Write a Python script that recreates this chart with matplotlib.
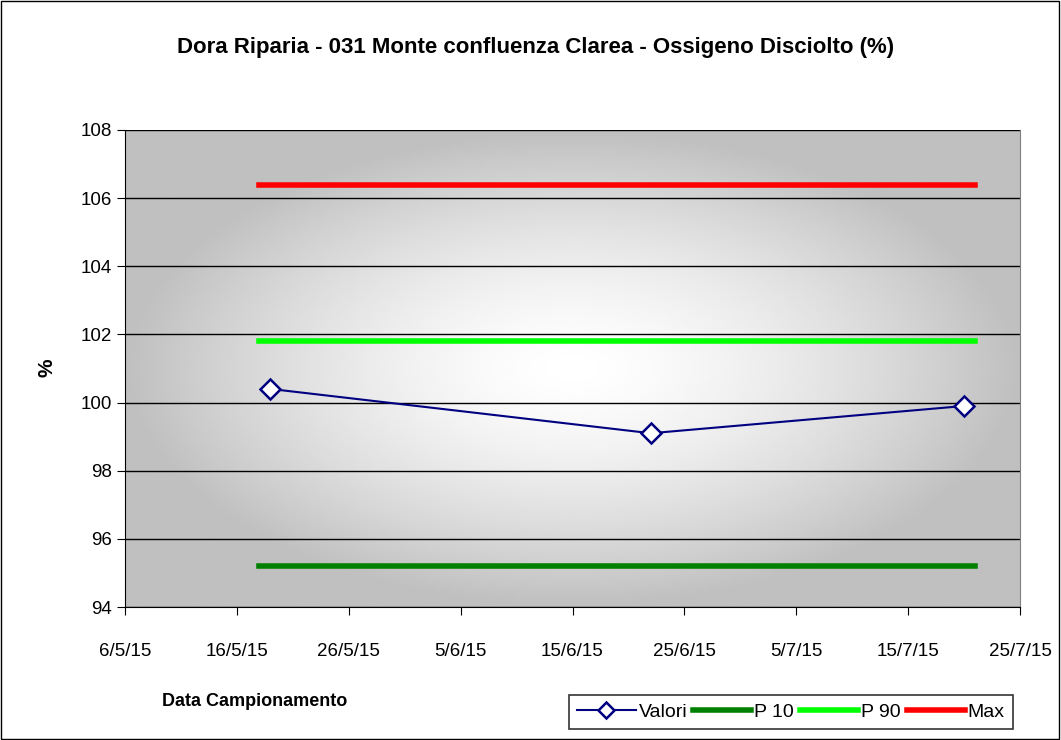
import numpy as np
import matplotlib.pyplot as plt
from datetime import datetime

plt.rcParams['font.family'] = ['Liberation Sans', 'DejaVu Sans']

# Data
date_valori = [datetime(2015, 5, 19), datetime(2015, 6, 22), datetime(2015, 7, 20)]
valori = [100.4, 99.1, 99.9]
date_limiti = [datetime(2015, 5, 18), datetime(2015, 7, 21)]
p10 = [95.2, 95.2]
p90 = [101.8, 101.8]
vmax = [106.4, 106.4]
xticks = [datetime(2015, 5, 6), datetime(2015, 5, 16), datetime(2015, 5, 26),
          datetime(2015, 6, 5), datetime(2015, 6, 15), datetime(2015, 6, 25),
          datetime(2015, 7, 5), datetime(2015, 7, 15), datetime(2015, 7, 25)]
xticklabels = ['6/5/15', '16/5/15', '26/5/15', '5/6/15', '15/6/15',
               '25/6/15', '5/7/15', '15/7/15', '25/7/15']

fig = plt.figure(figsize=(10.61, 7.40), dpi=100)
ax = fig.add_axes([125/1061, 1-607/740, 895/1061, 477/740])

# radial gradient background
gx, gy = np.meshgrid(np.linspace(-1, 1, 300), np.linspace(-1, 1, 200))
r = np.clip(np.sqrt(gx**2 + gy**2), 0, 1)
bg = 1.0 - 0.25 * r**1.5
ax.imshow(bg, cmap='gray', vmin=0, vmax=1, aspect='auto',
          extent=[0, 1, 0, 1], transform=ax.transAxes, zorder=0)

ax.set_ylim(94, 108)
ax.set_xlim(xticks[0], xticks[-1])
ax.set_yticks(np.arange(94, 109, 2))
ax.set_xticks(xticks)
ax.set_xticklabels(xticklabels)
ax.yaxis.grid(True, color='black', linewidth=1)
ax.set_axisbelow(True)

ax.plot(date_limiti, p10, color='#008000', linewidth=4, label='P 10', zorder=3)
ax.plot(date_limiti, p90, color='#00ff00', linewidth=4, label='P 90', zorder=3)
ax.plot(date_limiti, vmax, color='#ff0000', linewidth=4, label='Max', zorder=3)
ax.plot(date_valori, valori, color='#000080', linewidth=1.5, marker='D',
        markersize=10, markerfacecolor='white', markeredgecolor='#000080',
        markeredgewidth=1.8, label='Valori', zorder=4)

ax.spines['top'].set_visible(False)
ax.spines['right'].set_color('#808080')
ax.tick_params(axis='both', labelsize=13.5, direction='out', length=6, colors='black')
ax.tick_params(axis='x', pad=20)

fig.text(0.505, 1-48/740, 'Dora Riparia - 031 Monte confluenza Clarea - Ossigeno Disciolto (%)',
         ha='center', va='center', fontsize=16, fontweight='bold')
fig.text(47/1061, 1-368/740, '%', rotation=90, ha='center', va='center',
         fontsize=15, fontweight='bold')
fig.text(255/1061, 1-702/740, 'Data Campionamento', ha='center', va='center',
         fontsize=13, fontweight='bold')

# legend order as in the original: Valori, P 10, P 90, Max
h, l = ax.get_legend_handles_labels()
order = [3, 0, 1, 2]
leg = fig.legend([h[i] for i in order], [l[i] for i in order], ncol=4,
                 loc='center', bbox_to_anchor=(791/1061, 1-712/740),
                 fontsize=14, frameon=True, fancybox=False, edgecolor='black',
                 handlelength=3.0, columnspacing=0.3, handletextpad=0.15,
                 borderpad=0.4, markerscale=0.8)
leg.get_frame().set_linewidth(1.2)

fig.patches.append(plt.Rectangle((0.001, 0.001), 0.997, 0.997, transform=fig.transFigure,
                                 fill=False, edgecolor='black', linewidth=1))

fig.savefig('out.png', dpi=100)
